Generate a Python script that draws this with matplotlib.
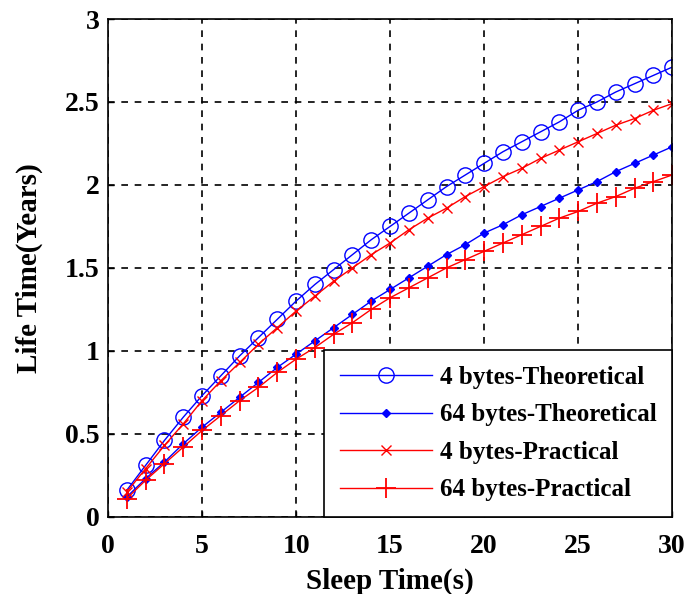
import matplotlib
matplotlib.use('Agg')
import matplotlib.pyplot as plt

plt.rcParams['font.family'] = ['Liberation Serif', 'DejaVu Serif']
plt.rcParams['font.weight'] = 'bold'

sleep_time = list(range(1, 31))

theo_4 = [0.16, 0.31, 0.46, 0.60, 0.73, 0.85, 0.97, 1.08, 1.19, 1.30,
          1.40, 1.49, 1.58, 1.67, 1.75, 1.83, 1.91, 1.99, 2.06, 2.13,
          2.20, 2.26, 2.32, 2.38, 2.45, 2.50, 2.56, 2.61, 2.66, 2.71]
theo_64 = [0.12, 0.23, 0.33, 0.44, 0.54, 0.63, 0.72, 0.81, 0.90, 0.98,
           1.06, 1.14, 1.22, 1.30, 1.37, 1.44, 1.51, 1.58, 1.64, 1.71,
           1.76, 1.82, 1.87, 1.92, 1.97, 2.02, 2.08, 2.13, 2.18, 2.23]
prac_4 = [0.15, 0.29, 0.43, 0.56, 0.70, 0.82, 0.93, 1.04, 1.14, 1.24,
          1.33, 1.42, 1.50, 1.58, 1.65, 1.73, 1.80, 1.86, 1.93, 1.99,
          2.05, 2.10, 2.16, 2.21, 2.26, 2.31, 2.36, 2.40, 2.45, 2.49]
prac_64 = [0.11, 0.22, 0.32, 0.42, 0.52, 0.61, 0.70, 0.78, 0.87, 0.95,
           1.02, 1.10, 1.17, 1.25, 1.32, 1.38, 1.44, 1.50, 1.55, 1.60,
           1.65, 1.70, 1.75, 1.80, 1.84, 1.89, 1.93, 1.98, 2.02, 2.06]

fig = plt.figure(figsize=(6.88, 5.94), dpi=100)
ax = fig.add_axes([0.157, 0.130, 0.820, 0.838])

ax.plot(sleep_time, theo_4, '-o', color='blue', lw=1, markersize=11,
        markerfacecolor='none', markeredgewidth=1, label='4 bytes-Theoretical')
ax.plot(sleep_time, theo_64, '-D', color='blue', lw=1, markersize=4,
        label='64 bytes-Theoretical')
ax.plot(sleep_time, prac_4, '-x', color='red', lw=1, markersize=7,
        markeredgewidth=1, label='4 bytes-Practical')
ax.plot(sleep_time, prac_64, '-+', color='red', lw=1, markersize=14,
        markeredgewidth=1.3, label='64 bytes-Practical')

ax.set_xlim(0, 30)
ax.set_ylim(0, 3)
ax.set_xticks([0, 5, 10, 15, 20, 25, 30])
ax.set_yticks([0, 0.5, 1, 1.5, 2, 2.5, 3])
ax.set_yticklabels(['0', '0.5', '1', '1.5', '2', '2.5', '3'])
ax.tick_params(direction='in', labelsize=20, length=4, width=1)
ax.tick_params(axis='x', pad=12.5)
ax.tick_params(axis='y', pad=6)
for lbl in ax.get_xticklabels() + ax.get_yticklabels():
    lbl.set_fontweight('bold')
ax.grid(True, color='black', linestyle=(0, (4, 4)), linewidth=1.2)
for sp in ax.spines.values():
    sp.set_linewidth(1.2)

ax.set_xlabel('Sleep Time(s)', fontsize=21, fontweight='bold', labelpad=6)
ax.set_ylabel('Life Time(Years)', fontsize=21, fontweight='bold', labelpad=16)

leg = ax.legend(loc='lower right', fontsize=18, fancybox=False, framealpha=1,
                edgecolor='black', borderaxespad=0, handlelength=3.7,
                handletextpad=0.3, labelspacing=0.58, borderpad=0.62)
leg.get_frame().set_linewidth(1.2)
for t in leg.get_texts():
    t.set_fontweight('bold')

plt.savefig('out.png', dpi=100)
